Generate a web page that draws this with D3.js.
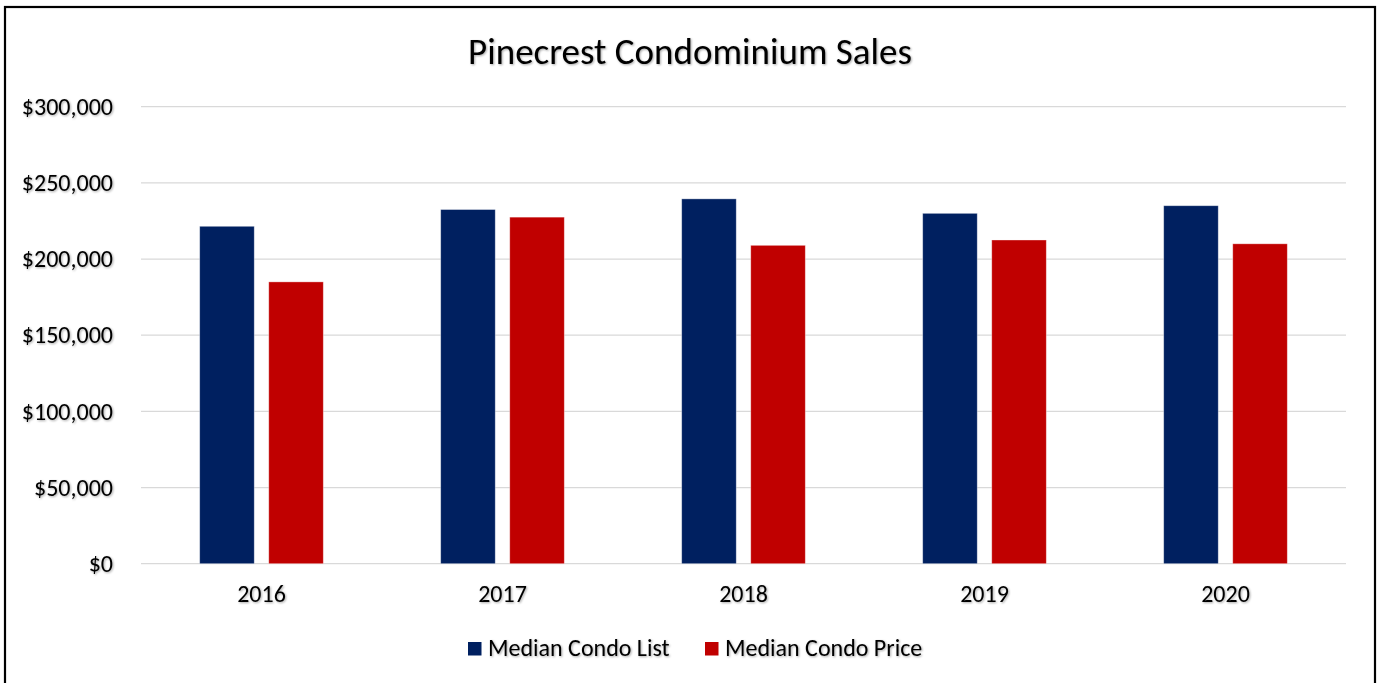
<!DOCTYPE html>
<html>
<head>
<meta charset="utf-8">
<script src="https://cdn.jsdelivr.net/npm/d3@7"></script>
<style>
  html, body { margin: 0; padding: 0; background: #ffffff; }
  svg { display: block; }
  text { font-family: Carlito, Calibri, Lato, "Open Sans", sans-serif; fill: #000; }
</style>
</head>
<body>
<svg id="chart" width="1377" height="683"></svg>
<script>
// Median condo figures per year
const years = ["2016", "2017", "2018", "2019", "2020"];
const medianList = [221500, 232500, 239500, 230000, 235000];
const medianPrice = [185000, 227500, 209000, 212500, 210000];
const seriesNames = ["Median Condo List", "Median Condo Price"];
const seriesColors = ["#002060", "#C00000"];
const yTicks = [0, 50000, 100000, 150000, 200000, 250000, 300000];
const chartTitle = "Pinecrest Condominium Sales";

const W = 1377, H = 683;
const plot = { left: 141, right: 1346, top: 106.7, bottom: 563.7 };

const svg = d3.select("#chart");

// soft shadow used under the text
const defs = svg.append("defs");
const f = defs.append("filter").attr("id", "txtShadow")
  .attr("x", "-10%").attr("y", "-30%").attr("width", "120%").attr("height", "160%");
f.append("feDropShadow").attr("dx", 1).attr("dy", 1).attr("stdDeviation", 0.8)
  .attr("flood-color", "#000").attr("flood-opacity", 0.35);

// outer frame
svg.append("rect")
  .attr("x", 5).attr("y", 7).attr("width", 1370).attr("height", H + 20)
  .attr("fill", "#fff").attr("stroke", "#000").attr("stroke-width", 2.2);

const x0 = d3.scaleBand().domain(years).range([plot.left, plot.right]).padding(0);
const x1 = d3.scaleBand().domain(seriesNames).range([0, x0.bandwidth()])
  .paddingInner(0.21).paddingOuter(0.85);
const y = d3.scaleLinear().domain([0, 300000]).range([plot.bottom, plot.top]);

// horizontal gridlines
svg.append("g").selectAll("line").data(yTicks).join("line")
  .attr("x1", plot.left).attr("x2", plot.right)
  .attr("y1", d => y(d)).attr("y2", d => y(d))
  .attr("stroke", "#d9d9d9").attr("stroke-width", 1.3);

// y axis labels
const yAxis = d3.axisLeft(y).tickValues(yTicks).tickSize(0).tickPadding(0)
  .tickFormat(d => "$" + d3.format(",")(d));
const gy = svg.append("g").attr("transform", `translate(113,0)`).call(yAxis);
gy.select(".domain").remove();
gy.selectAll("text")
  .attr("font-size", 24).attr("font-family", null)
  .attr("filter", "url(#txtShadow)");

// bars
const rows = years.map((yr, i) => ({ year: yr, values: [medianList[i], medianPrice[i]] }));
const groups = svg.append("g").selectAll("g").data(rows).join("g")
  .attr("transform", d => `translate(${x0(d.year)},0)`);
groups.selectAll("rect")
  .data(d => d.values.map((v, k) => ({ name: seriesNames[k], value: v, color: seriesColors[k] })))
  .join("rect")
  .attr("x", d => x1(d.name))
  .attr("width", x1.bandwidth())
  .attr("y", d => y(d.value))
  .attr("height", d => y(0) - y(d.value))
  .attr("fill", d => d.color)
  .attr("stroke", "#ffffff").attr("stroke-opacity", 0.45).attr("stroke-width", 0.8);

// x axis labels
const xAxis = d3.axisBottom(x0).tickSize(0).tickPadding(0);
const gx = svg.append("g").attr("transform", `translate(0,${plot.bottom})`).call(xAxis);
gx.select(".domain").remove();
gx.selectAll("text")
  .attr("font-size", 24).attr("font-family", null)
  .attr("dy", null).attr("y", 38.5)
  .attr("filter", "url(#txtShadow)");

// title
svg.append("text")
  .attr("x", 690).attr("y", 63.5)
  .attr("text-anchor", "middle")
  .attr("font-size", 37)
  .attr("filter", "url(#txtShadow)")
  .text(chartTitle);

// legend
const legendX = [468, 705];
const leg = svg.append("g").selectAll("g").data(seriesNames).join("g")
  .attr("transform", (d, i) => `translate(${legendX[i]},642)`);
leg.append("rect").attr("width", 13.5).attr("height", 13.5)
  .attr("fill", (d, i) => seriesColors[i]);
leg.append("text").attr("x", 20).attr("y", 13.5)
  .attr("font-size", 24)
  .attr("filter", "url(#txtShadow)")
  .text(d => d);
</script>
</body>
</html>
